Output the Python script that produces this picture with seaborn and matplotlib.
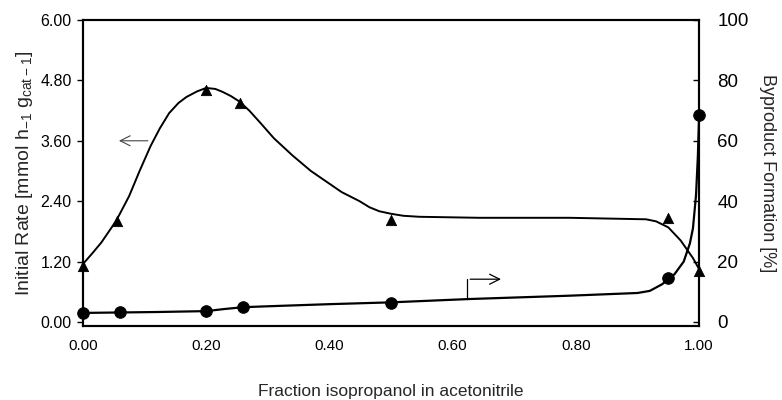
import matplotlib
matplotlib.use("Agg")
import matplotlib.pyplot as plt
import seaborn as sns
import pandas as pd

# measured points
rate_x = [0.00, 0.055, 0.20, 0.255, 0.50, 0.95, 1.00]
rate_y = [1.12, 2.01, 4.61, 4.36, 2.03, 2.07, 1.02]

byprod_x = [0.00, 0.06, 0.20, 0.26, 0.50, 0.95, 1.00]
byprod_y = [3.0, 3.2, 3.8, 4.9, 6.2, 14.6, 68.5]

# hand-drawn fit curves
rate_curve_x = [0.00, 0.015, 0.03, 0.054, 0.075, 0.092, 0.11, 0.125, 0.14, 0.155, 0.168,
                0.185, 0.20, 0.215, 0.227, 0.24, 0.254, 0.27, 0.287, 0.31, 0.34,
                0.37, 0.395, 0.42, 0.449, 0.465, 0.481, 0.50, 0.52, 0.546, 0.643,
                0.789, 0.914, 0.93, 0.95, 0.97, 0.99, 1.00]
rate_curve_y = [1.15, 1.36, 1.58, 2.01, 2.50, 3.00, 3.50, 3.85, 4.15, 4.35, 4.47,
                4.58, 4.65, 4.63, 4.57, 4.49, 4.38, 4.20, 3.97, 3.65, 3.31,
                3.00, 2.79, 2.58, 2.40, 2.28, 2.20, 2.15, 2.11, 2.09, 2.07,
                2.07, 2.04, 2.00, 1.88, 1.62, 1.27, 1.05]

byprod_curve_x = [0.00, 0.12, 0.20, 0.23, 0.26, 0.30, 0.40, 0.50, 0.627, 0.789,
                  0.90, 0.92, 0.94, 0.96, 0.975, 0.985, 0.99, 0.995, 0.998, 1.00]
byprod_curve_y = [3.0, 3.3, 3.6, 4.3, 4.9, 5.2, 5.9, 6.5, 7.6, 8.7,
                  9.6, 10.3, 12.5, 15.8, 20.0, 26.0, 31.0, 42.0, 55.0, 68.5]

x_ticks = [0.0, 0.2, 0.4, 0.6, 0.8, 1.0]
left_ticks = [0.0, 1.2, 2.4, 3.6, 4.8, 6.0]
right_ticks = [0, 20, 40, 60, 80, 100]

sns.set_theme(style="white")
plt.rcParams["font.family"] = ["Liberation Sans", "DejaVu Sans"]
plt.rcParams["mathtext.default"] = "regular"

fig, ax = plt.subplots(figsize=(7.82, 4.0), dpi=100)
fig.subplots_adjust(left=0.106, right=0.894, bottom=0.185, top=0.95)
ax2 = ax.twinx()

rate_df = pd.DataFrame({"x": rate_curve_x, "y": rate_curve_y})
byp_df = pd.DataFrame({"x": byprod_curve_x, "y": byprod_curve_y})

sns.lineplot(data=rate_df, x="x", y="y", ax=ax, color="black", lw=1.4, sort=False)
sns.scatterplot(x=rate_x, y=rate_y, ax=ax, marker="^", s=55, color="black",
                edgecolor="black", zorder=5, clip_on=False)

sns.lineplot(data=byp_df, x="x", y="y", ax=ax2, color="black", lw=1.6, sort=False)
sns.scatterplot(x=byprod_x, y=byprod_y, ax=ax2, marker="o", s=70, color="black",
                edgecolor="black", zorder=5, clip_on=False)

ax.set_xlim(0, 1.0)
ax.set_ylim(-0.08, 6.0)
ax2.set_ylim(-1.33, 100)

ax.set_xticks(x_ticks)
ax.set_xticklabels([f"{v:.2f}" for v in x_ticks], fontsize=11)
ax.set_yticks(left_ticks)
ax.set_yticklabels([f"{v:.2f}" for v in left_ticks], fontsize=11.5)
ax2.set_yticks(right_ticks)
ax2.set_yticklabels([str(v) for v in right_ticks], fontsize=13.5)

ax.tick_params(axis="x", direction="in", length=4, width=1, pad=9, colors="black")
ax.tick_params(axis="y", direction="out", length=4, width=1, pad=4, colors="black")
ax2.tick_params(axis="y", direction="in", length=4, width=1, pad=13, colors="black")

for a in (ax, ax2):
    for sp in a.spines.values():
        sp.set_color("black")
        sp.set_linewidth(1.5)

ax.set_xlabel("Fraction isopropanol in acetonitrile", fontsize=12.5, labelpad=23)
ax.set_ylabel(r"Initial Rate [mmol h$_{-1}$ g$_{cat-1}$]", fontsize=14, labelpad=4)
ax2.set_ylabel("Byproduct Formation [%]", fontsize=13, rotation=270, labelpad=20)

# arrows pointing to the relevant axis
ax.annotate("", xy=(0.054, 3.6), xytext=(0.11, 3.6),
            arrowprops=dict(arrowstyle="->", color="#444444", lw=0.8,
                            mutation_scale=18))
ax.plot([0.624, 0.624], [0.46, 0.85], color="black", lw=0.9)
ax.annotate("", xy=(0.683, 0.85), xytext=(0.624, 0.85),
            arrowprops=dict(arrowstyle="->", color="black", lw=0.9,
                            mutation_scale=18))

fig.savefig("out.png", dpi=100)
